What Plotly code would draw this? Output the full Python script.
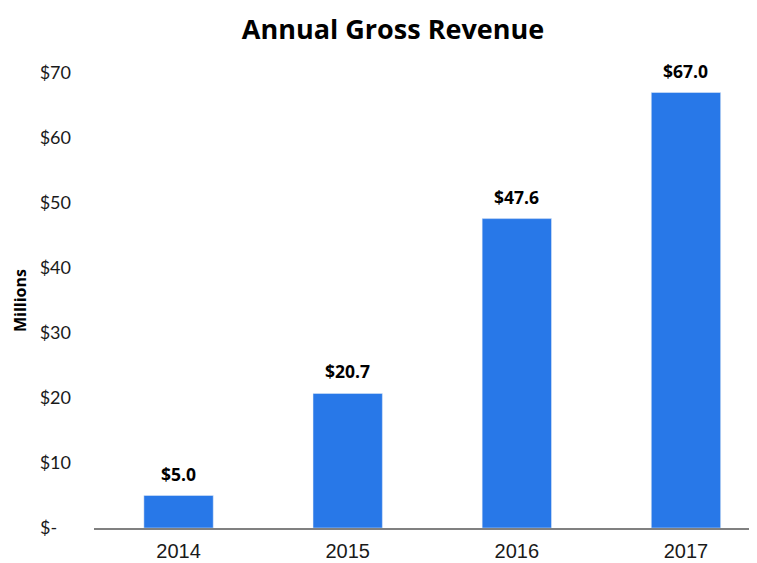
import plotly.graph_objects as go

years = ["2014", "2015", "2016", "2017"]
revenue = [5.0, 20.7, 47.6, 67.0]
tick_vals = [0, 10, 20, 30, 40, 50, 60, 70]
tick_text = ["$-\u00a0\u00a0\u00a0", "$10", "$20", "$30", "$40", "$50", "$60", "$70"]

# The page body has an 8px margin; the figure is sized to fill the rest of the window.
W, H = 749, 555

fig = go.Figure()
fig.add_trace(go.Bar(
    x=years, y=revenue, marker_color="#2878E8", width=0.41,
    hoverinfo="skip",
))

for i, v in enumerate(revenue):
    fig.add_annotation(
        x=i, y=v, xref="x", yref="y", text=f"<b>${v:.1f}</b>", showarrow=False,
        yanchor="middle", yshift=22,
        font=dict(family="Open Sans, Arial", size=17.5, color="#000000"),
    )

fig.update_layout(
    width=W, height=H,
    paper_bgcolor="white", plot_bgcolor="white",
    margin=dict(l=86, r=0, t=65, b=35),
    showlegend=False,
    title=dict(
        text="<b>Annual Gross Revenue</b>",
        x=385 / W, xanchor="center", y=1 - 22 / H, yanchor="middle",
        font=dict(family="Open Sans, Arial", size=27, color="#000000"),
    ),
    xaxis=dict(
        type="category",
        range=[-0.5, 3.42],
        showline=True, linecolor="#808080", linewidth=1.5,
        showgrid=False, ticks="", automargin=False,
        ticklabelstandoff=4,
        tickfont=dict(family="Liberation Sans, Arial", size=20, color="#1a1a1a"),
    ),
    yaxis=dict(
        range=[0, 70],
        tickvals=tick_vals, ticktext=tick_text,
        showline=False, showgrid=False, zeroline=False, ticks="",
        ticklabelstandoff=22, automargin=False,
        tickfont=dict(family="Lato, Open Sans", size=18, color="#1a1a1a"),
        title=dict(
            text="<b>Millions</b>", standoff=9,
            font=dict(family="Open Sans, Arial", size=16, color="#000000"),
        ),
    ),
)

fig.write_html("out.html")
